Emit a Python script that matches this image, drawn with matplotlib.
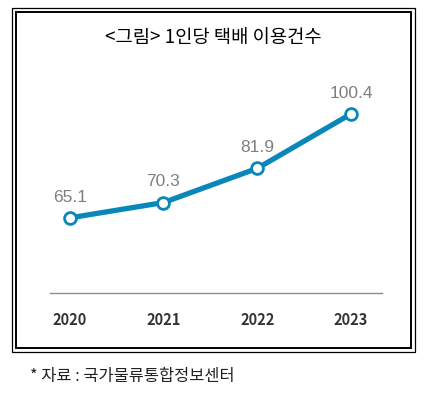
import matplotlib
matplotlib.use("Agg")
import matplotlib.pyplot as plt
from matplotlib.patches import Rectangle

plt.rcParams["font.family"] = ["Noto Sans CJK KR", "DejaVu Sans"]

# Data
years = ["2020", "2021", "2022", "2023"]
counts = [65.1, 70.3, 81.9, 100.4]
title = "<그림> 1인당 택배 이용건수"
source = "* 자료 : 국가물류통합정보센터"

W, H = 427, 393
fig = plt.figure(figsize=(W / 100, H / 100), dpi=100)
fig.patch.set_facecolor("white")

# Double frame around the chart
fig.patches.append(Rectangle((12.5 / W, 1 - 351.5 / H), 402.5 / W, 344 / H,
                             transform=fig.transFigure, fill=False,
                             edgecolor="black", lw=0.9))
fig.patches.append(Rectangle((16 / W, 1 - 348 / H), 395.5 / W, 336.5 / H,
                             transform=fig.transFigure, fill=False,
                             edgecolor="black", lw=1.4))

ax = fig.add_axes([50 / W, 1 - 293 / H, 332 / W, 203 / H])
x = range(len(years))
ax.plot(x, counts, color="#0a87b9", lw=3.8, solid_capstyle="round", zorder=2)
ax.plot(x, counts, "o", ms=8.5, mfc="white", mec="#0a87b9", mew=2.0, zorder=3)

for xi, v in zip(x, counts):
    ax.annotate(f"{v}", (xi, v), xytext=(0, 15), textcoords="offset points",
                ha="center", va="center", fontsize=12.5, color="#7f7f7f",
                family=["Liberation Sans", "DejaVu Sans"])

ax.set_xlim(-0.21, 3.33)
ax.set_ylim(39.6, 108.5)
ax.set_yticks([])
ax.set_xticks(list(x))
ax.set_xticklabels(years, fontsize=10.5, fontweight="bold", color="#333333")
ax.tick_params(axis="x", length=0, pad=14)
for side in ["top", "left", "right"]:
    ax.spines[side].set_visible(False)
ax.spines["bottom"].set_color("#8c8c8c")
ax.spines["bottom"].set_linewidth(1.0)
ax.patch.set_alpha(0)

fig.text(213 / W, 1 - 37 / H, title, ha="center", va="center",
         fontsize=13.5, fontweight="medium", color="black")
fig.text(30 / W, 1 - 377 / H, source, ha="left", va="center",
         fontsize=11.8, color="#222222")

fig.savefig("out.png", dpi=100)
